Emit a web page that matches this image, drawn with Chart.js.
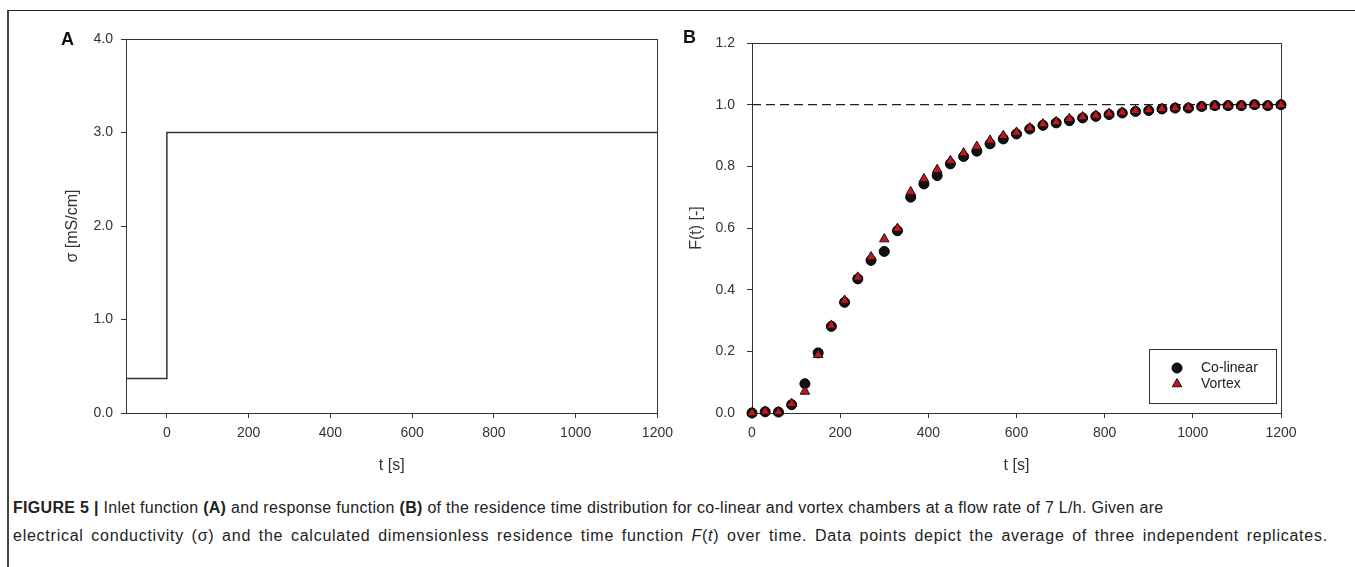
<!DOCTYPE html>
<html>
<head>
<meta charset="utf-8">
<script src="https://cdn.jsdelivr.net/npm/chart.js@4.4.1/dist/chart.umd.min.js"></script>
<style>
  body { margin: 0; background: #fff; width: 1355px; height: 567px; overflow: hidden; position: relative; font-family: "Liberation Sans", Arial, sans-serif; }
  #marco { position: absolute; left: 7px; top: 10px; right: -5px; bottom: -5px; border-left: 2px solid #444; border-top: 1px solid #222; }
  #graficoA { position: absolute; left: 0; top: 0; }
  #graficoB { position: absolute; left: 680px; top: 0; }
  .panel { position: absolute; font-weight: bold; font-size: 18px; color: #111; line-height: 20px; }
  .nota { position: absolute; left: 13px; font-size: 16px; line-height: 20px; color: #222; white-space: nowrap; letter-spacing: 0.3px; }
</style>
</head>
<body>
<div id="marco"></div>
<canvas id="graficoA" width="680" height="480"></canvas>
<canvas id="graficoB" width="675" height="480"></canvas>
<div class="panel" style="left:61px;top:29px">A</div>
<div class="panel" style="left:683px;top:27px">B</div>
<div class="nota" style="top:498px"><b>FIGURE 5 |</b> Inlet function <b>(A)</b> and response function <b>(B)</b> of the residence time distribution for co-linear and vortex chambers at a flow rate of 7 L/h. Given are</div>
<div class="nota" style="top:526px;letter-spacing:0.75px;word-spacing:2.5px">electrical conductivity (σ) and the calculated dimensionless residence time function <i>F</i>(<i>t</i>) over time. Data points depict the average of three independent replicates.</div>

<script>
// panel A: inlet step
var tiempoA = [-100, 0, 0, 1200];
var sigmaA = [0.37, 0.37, 3.0, 3.0];
var ticksXA = [0, 200, 400, 600, 800, 1000, 1200];
var ticksYA = [0, 1, 2, 3, 4];

// panel B: response F(t)
var tiempoB = [0, 30, 60, 90, 120, 150, 180, 210, 240, 270, 300, 330, 360, 390, 420, 450, 480, 510, 540, 570,
  600, 630, 660, 690, 720, 750, 780, 810, 840, 870, 900, 930, 960, 990, 1020, 1050, 1080, 1110, 1140, 1170, 1200];
var colineal = [0.000, 0.004, 0.003, 0.027, 0.095, 0.195, 0.281, 0.359, 0.435, 0.495, 0.524, 0.591, 0.700, 0.743,
  0.770, 0.808, 0.832, 0.849, 0.873, 0.889, 0.905, 0.921, 0.933, 0.941, 0.948, 0.957, 0.962, 0.968, 0.973, 0.978,
  0.981, 0.986, 0.989, 0.989, 0.994, 0.997, 0.997, 0.997, 1.000, 0.997, 1.000];
var vortice = [0.000, 0.005, 0.003, 0.030, 0.070, 0.189, 0.284, 0.365, 0.440, 0.506, 0.564, 0.598, 0.717, 0.759,
  0.789, 0.818, 0.843, 0.864, 0.884, 0.899, 0.910, 0.924, 0.937, 0.944, 0.954, 0.960, 0.965, 0.971, 0.975, 0.980,
  0.983, 0.987, 0.989, 0.991, 0.994, 0.995, 0.997, 0.997, 0.999, 0.997, 0.999];
var ticksXB = [0, 200, 400, 600, 800, 1000, 1200];
var ticksYB = [0, 0.2, 0.4, 0.6, 0.8, 1.0, 1.2];
var lineaRef = [1.0];

var fuente = '"Liberation Sans", Arial, sans-serif';

function puntos(xs, ys) {
  return xs.map(function (x, i) { return { x: x, y: ys[i] }; });
}

// box round the plot area
var cajaPlugin = {
  id: 'caja',
  beforeDatasetsDraw: function (chart) {
    var a = chart.chartArea, ctx = chart.ctx;
    ctx.save();
    ctx.strokeStyle = '#333';
    ctx.lineWidth = 1;
    ctx.strokeRect(Math.round(a.left) + 0.5, Math.round(a.top) + 0.5, Math.round(a.right - a.left), Math.round(a.bottom - a.top));
    ctx.restore();
  }
};

// legend inside plot B, bottom right, with a frame
var leyendaPlugin = {
  id: 'leyenda',
  afterDraw: function (chart) {
    var a = chart.chartArea, ctx = chart.ctx;
    var w = 127, h = 54;
    var x = a.right - 5 - w, y = a.bottom - 10 - h;
    ctx.save();
    ctx.strokeStyle = '#333';
    ctx.lineWidth = 1;
    ctx.strokeRect(Math.round(x) + 0.5, Math.round(y) + 0.5, w, h);
    var items = chart.data.datasets.filter(function (d) { return d.label; }).reverse();
    ctx.font = '14px ' + fuente;
    ctx.textBaseline = 'middle';
    items.forEach(function (d, i) {
      var cy = y + 19 + i * 16;
      ctx.fillStyle = d.backgroundColor;
      ctx.strokeStyle = d.borderColor;
      ctx.lineWidth = d.borderWidth;
      Chart.helpers.drawPoint(ctx, { pointStyle: d.pointStyle, radius: d.pointRadius, borderWidth: d.borderWidth, rotation: 0 }, x + 28, cy);
      ctx.fillStyle = '#222';
      ctx.fillText(d.label, x + 52, cy);
    });
    ctx.restore();
  }
};

function eje(min, max, valores, decimales, titulo, tituloPad, medida, tipo, sep) {
  return {
    type: 'linear',
    min: min,
    max: max,
    afterBuildTicks: function (s) { s.ticks = valores.map(function (v) { return { value: v }; }); },
    afterFit: function (s) { if (tipo === 'x') { s.height = medida; } else { s.width = medida; } },
    grid: { drawOnChartArea: false, drawTicks: true, tickLength: 5, color: '#333', lineWidth: 1 },
    border: { display: true, color: '#333', width: 1 },
    ticks: {
      autoSkip: false, maxRotation: 0, color: '#333', padding: sep,
      font: { size: 14, family: fuente },
      callback: function (v) { return decimales ? Number(v).toFixed(decimales) : String(v); }
    },
    title: { display: true, text: titulo, color: '#333', font: { size: 16, family: fuente }, padding: tituloPad }
  };
}

function generarchartA(ctx) {
  return new Chart(ctx, {
    type: 'scatter',
    data: {
      datasets: [{
        data: puntos(tiempoA, sigmaA),
        showLine: true,
        borderColor: '#333',
        borderWidth: 1.5,
        pointRadius: 0,
        fill: false
      }]
    },
    options: {
      responsive: false,
      animation: false,
      devicePixelRatio: 1,
      layout: { padding: { left: 0, right: 19, top: 39, bottom: 0 } },
      plugins: { legend: { display: false }, tooltip: { enabled: false } },
      scales: {
        x: eje(-100, 1200, ticksXA, 0, 't [s]', { top: 0, bottom: 5 }, 67, 'x', 7),
        y: eje(0, 4, ticksYA, 1, 'σ [mS/cm]', { top: 63, bottom: 0 }, 126, 'y', 8)
      }
    },
    plugins: [cajaPlugin]
  });
}

function generarchartB(ctx) {
  return new Chart(ctx, {
    type: 'scatter',
    data: {
      datasets: [{
        label: 'Vortex',
        data: puntos(tiempoB, vortice),
        pointStyle: 'triangle',
        pointRadius: 5.5,
        backgroundColor: '#c4161c',
        borderColor: '#111',
        borderWidth: 1,
        clip: false
      }, {
        label: 'Co-linear',
        data: puntos(tiempoB, colineal),
        pointStyle: 'circle',
        pointRadius: 5,
        backgroundColor: '#111',
        borderColor: '#000',
        borderWidth: 1,
        clip: false
      }, {
        data: [{ x: ticksXB[0], y: lineaRef[0] }, { x: ticksXB[ticksXB.length - 1], y: lineaRef[0] }],
        showLine: true,
        borderColor: '#222',
        borderWidth: 1.3,
        borderDash: [9, 5],
        pointRadius: 0
      }]
    },
    options: {
      responsive: false,
      animation: false,
      devicePixelRatio: 1,
      layout: { padding: { left: 0, right: 74, top: 43, bottom: 0 } },
      plugins: { legend: { display: false }, tooltip: { enabled: false } },
      scales: {
        x: eje(0, 1200, ticksXB, 0, 't [s]', { top: 0, bottom: 5 }, 67, 'x', 7),
        y: eje(0, 1.2, ticksYB, 1, 'F(t) [-]', { top: 7, bottom: 0 }, 72, 'y', 12)
      }
    },
    plugins: [cajaPlugin, leyendaPlugin]
  });
}

generarchartA(document.getElementById('graficoA'));
generarchartB(document.getElementById('graficoB'));
</script>
</body>
</html>
